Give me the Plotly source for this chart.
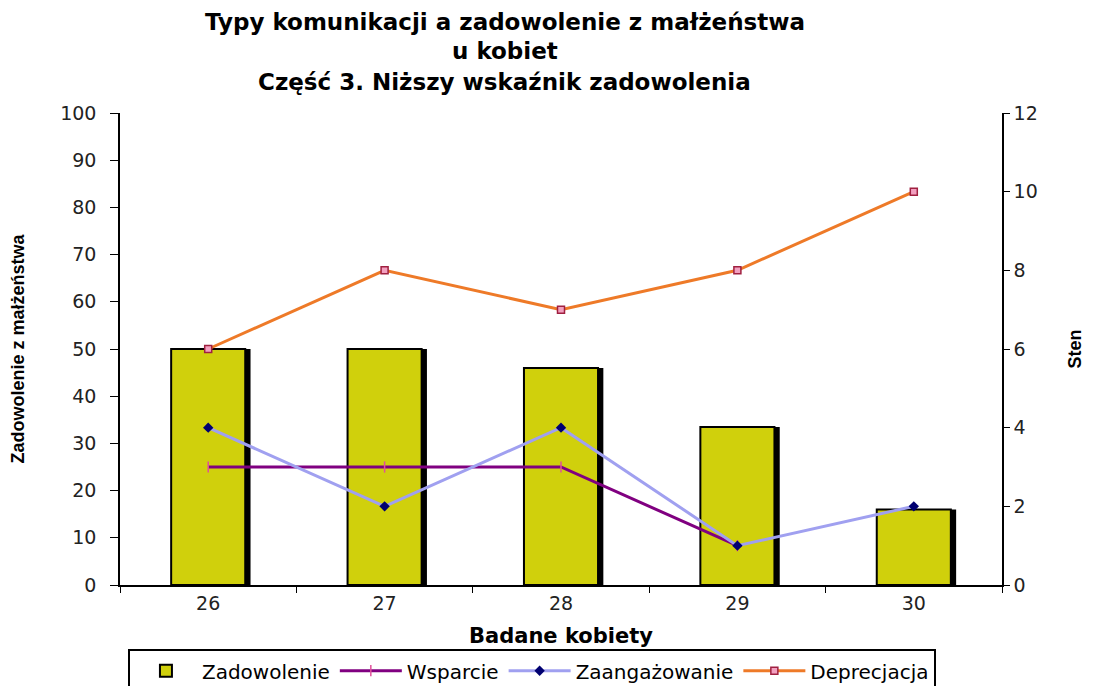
import plotly.graph_objects as go

categories = ["26", "27", "28", "29", "30"]
zadowolenie = [50, 50, 46, 33.5, 16]
wsparcie = [3, 3, 3, 1, None]
zaangazowanie = [4, 2, 4, 1, 2]
deprecjacja = [6, 8, 7, 8, 10]
title_lines = ["Typy komunikacji a zadowolenie z małżeństwa",
               "u kobiet",
               "Część 3. Niższy wskaźnik zadowolenia"]
x_title = "Badane kobiety"

FONT = "DejaVu Sans, Liberation Sans, Arial, sans-serif"
NARROW = "Liberation Sans Narrow, Liberation Sans, Arial"

fig = go.Figure()

# shadow of bars
fig.add_trace(go.Bar(
    x=categories, y=zadowolenie, width=0.43, offset=-0.19,
    marker=dict(color="black", line=dict(width=0)),
    showlegend=False, hoverinfo="skip", yaxis="y"))
fig.add_trace(go.Bar(
    x=categories, y=zadowolenie, width=0.42, offset=-0.21,
    name="Zadowolenie",
    marker=dict(color="#D0D00C", line=dict(color="black", width=2)),
    yaxis="y"))
fig.add_trace(go.Scatter(
    x=categories, y=wsparcie, name="Wsparcie", mode="lines+markers",
    line=dict(color="#800080", width=3),
    marker=dict(symbol="line-ns", size=8, color="#E0509A",
                line=dict(color="#E0509A", width=1.5)),
    yaxis="y2"))
fig.add_trace(go.Scatter(
    x=categories, y=zaangazowanie, name="Zaangażowanie", mode="lines+markers",
    line=dict(color="#A0A0F0", width=3),
    marker=dict(symbol="diamond", size=8, color="#000070"),
    yaxis="y2"))
fig.add_trace(go.Scatter(
    x=categories, y=deprecjacja, name="Deprecjacja", mode="lines+markers",
    line=dict(color="#EE7A28", width=3),
    marker=dict(symbol="square", size=7, color="#F2A0C0",
                line=dict(color="#A02040", width=1.5)),
    yaxis="y2"))

title_y = [1.1928, 1.1314, 1.0657]
for txt, yy in zip(title_lines, title_y):
    fig.add_annotation(text="<b>" + txt + "</b>", xref="paper", yref="paper",
                       x=0.4365, y=yy, xanchor="center", yanchor="middle",
                       showarrow=False,
                       font=dict(family="DejaVu Sans, Arial", size=23, color="black"))

# x-axis title
fig.add_annotation(text="<b>" + x_title + "</b>", xref="paper", yref="paper",
                   x=0.5, y=-0.108, xanchor="center", yanchor="middle",
                   showarrow=False, font=dict(family=FONT, size=21, color="black"))

fig.update_layout(
    width=1089, height=678,
    margin=dict(l=112, r=95, t=105, b=101, autoexpand=False),
    paper_bgcolor="white", plot_bgcolor="white",
    barmode="overlay",
    font=dict(family=FONT, color="black", size=19),
    xaxis=dict(
        type="category", range=[-0.5, 4.5],
        showline=True, linecolor="black", linewidth=1.5,
        ticks="outside", tickson="boundaries", ticklen=6, tickcolor="black",
        showgrid=False, zeroline=False, automargin=False,
        tickfont=dict(size=19, color="#222")),
    yaxis=dict(
        range=[0, 100], dtick=10,
        showline=True, linecolor="black", linewidth=1.5,
        ticks="outside", ticklen=8, tickcolor="black", ticklabelstandoff=10,
        showgrid=False, zeroline=False, automargin=False,
        tickfont=dict(size=19, color="#222"),
        title=dict(text="<b>Zadowolenie z małżeństwa</b>",
                   font=dict(family=NARROW, size=18), standoff=32)),
    yaxis2=dict(
        range=[0, 12], dtick=2, overlaying="y", side="right",
        showline=True, linecolor="black", linewidth=1.5,
        ticks="outside", ticklen=6, tickcolor="black",
        showgrid=False, zeroline=False, automargin=False,
        tickfont=dict(size=19, color="#222"),
        title=dict(text="<b>Sten</b>", font=dict(family=NARROW, size=18), standoff=32)),
    legend=dict(
        orientation="h", x=0.009, xanchor="left", xref="paper",
        y=-0.136, yanchor="top", yref="paper",
        bordercolor="black", borderwidth=2, bgcolor="white",
        font=dict(size=20), itemwidth=62, tracegroupgap=0),
)

fig.write_html("out.html")
